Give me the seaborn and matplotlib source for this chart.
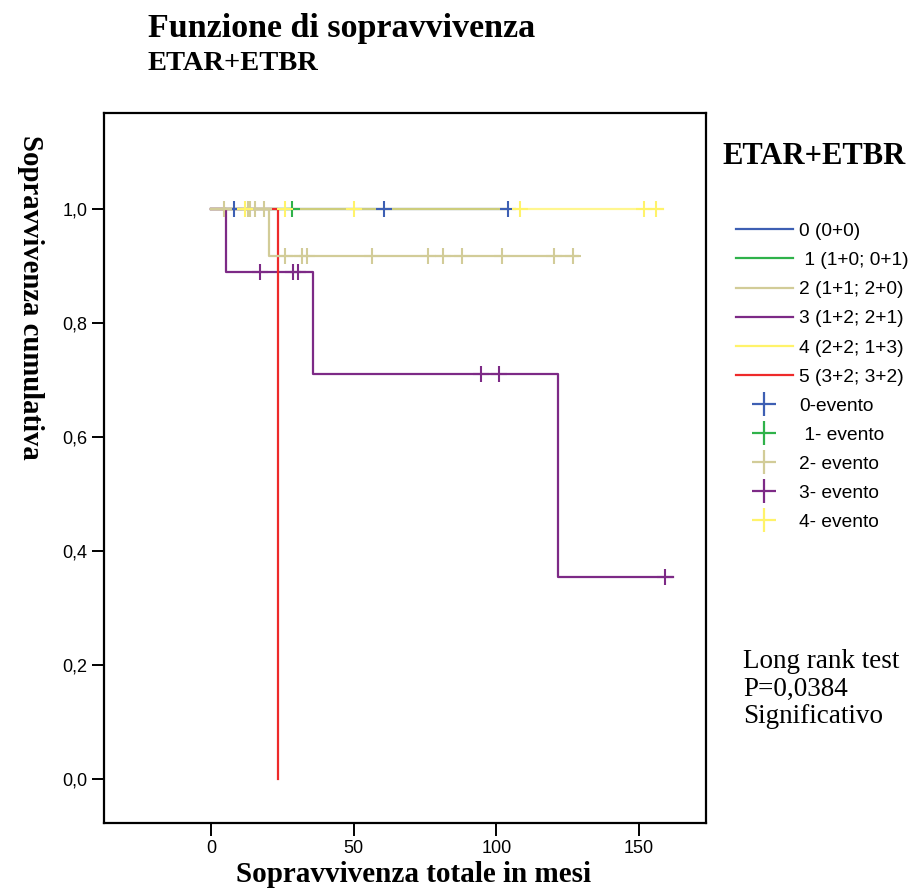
import matplotlib
matplotlib.use("Agg")
import matplotlib.pyplot as plt
from matplotlib.lines import Line2D
import seaborn as sns

# step curves (time in months, cumulative survival)
t0 = [0, 104.0]
s0 = [1.0, 1.0]
t1 = [0, 28.4]
s1 = [1.0, 1.0]
t2 = [0, 20.3, 128.6]
s2 = [1.0, 0.917, 0.917]
t3 = [0, 5.2, 35.7, 121.6, 162.0]
s3 = [1.0, 0.889, 0.711, 0.355, 0.355]
t4 = [0, 158.4]
s4 = [1.0, 1.0]
t5 = [0, 23.5]
s5 = [1.0, 0.0]

# censored cases
c0 = [8.1, 60.6, 104.0]
cs0 = [1.0, 1.0, 1.0]
c1 = [28.4]
cs1 = [1.0]
c2 = [4.6, 13.0, 13.7, 15.4, 18.6, 25.9, 31.9, 33.6, 56.4, 76.1, 81.3, 88.0, 102.0, 120.2, 126.9]
cs2 = [1.0, 1.0, 1.0, 1.0, 1.0, 0.917, 0.917, 0.917, 0.917, 0.917, 0.917, 0.917, 0.917, 0.917, 0.917]
c3 = [17.2, 28.7, 30.5, 94.6, 101.0, 159.0]
cs3 = [0.889, 0.889, 0.889, 0.711, 0.711, 0.355]
c4 = [11.9, 25.9, 50.1, 108.3, 151.8, 156.0]
cs4 = [1.0, 1.0, 1.0, 1.0, 1.0, 1.0]

group_labels = ['0 (0+0)', ' 1 (1+0; 0+1)', '2 (1+1; 2+0)', '3 (1+2; 2+1)', '4 (2+2; 1+3)', '5 (3+2; 3+2)']
event_labels = ['0-evento', ' 1- evento', '2- evento', '3- evento', '4- evento']
colors = ['#3d5fb3', '#2fb24a', '#d2cc98', '#7d2a86', '#fff36a', '#ee2a2a']

serif = 'Liberation Serif'
sans = 'Liberation Sans'
plt.rcParams['font.family'] = sans

fig = plt.figure(figsize=(9.11, 8.90), dpi=100)
ax = fig.add_axes([0.1142, 0.0753, 0.6608, 0.7977])

curves = [(t0, s0), (t1, s1), (t2, s2), (t3, s3), (t4, s4), (t5, s5)]
order = [0, 4, 1, 3, 5, 2]
for i in order:
    t, s = curves[i]
    sns.lineplot(x=t, y=s, drawstyle='steps-post', estimator=None, sort=False,
                 color=colors[i], linewidth=1.6, alpha=0.75 if i == 4 else 1.0, ax=ax)

cens = [(c0, cs0), (c1, cs1), (c2, cs2), (c3, cs3), (c4, cs4)]
for i, (c, cs) in enumerate(cens):
    sns.scatterplot(x=c, y=cs, marker='+', s=140, linewidth=1.5,
                    color=colors[i], ax=ax, zorder=3)

ax.set_xlim(-37.5, 173.5)
ax.set_ylim(-0.077, 1.168)
ax.set_xticks([0, 50, 100, 150])
ax.set_yticks([0, 0.2, 0.4, 0.6, 0.8, 1.0])
ax.set_yticklabels(['0,0', '0,2', '0,4', '0,6', '0,8', '1,0'])
ax.tick_params(direction='out', length=9, width=1.4, labelsize=13, pad=3)
for sp in ax.spines.values():
    sp.set_linewidth(1.6)
    sp.set_color('black')
ax.set_xlabel('')
ax.set_ylabel('')

fig.text(148 / 911, 1 - 28 / 890, 'Funzione di sopravvivenza', family=serif,
         weight='bold', fontsize=24.5, va='center', ha='left')
fig.text(148 / 911, 1 - 64 / 890, 'ETAR+ETBR', family=serif,
         weight='bold', fontsize=20.5, va='center', ha='left')
fig.text(414 / 911, 1 - 874 / 890, 'Sopravvivenza totale in mesi', family=serif,
         weight='bold', fontsize=21, va='center', ha='center')
fig.text(30 / 911, 1 - 297 / 890, 'Sopravvivenza cumulativa', family=serif,
         weight='bold', fontsize=20.7, va='center', ha='center', rotation=270)
fig.text(814 / 911, 1 - 157 / 890, 'ETAR+ETBR', family=serif,
         weight='bold', fontsize=22, va='center', ha='center')
fig.text(743 / 911, 1 - 689 / 890, 'Long rank test\nP=0,0384\nSignificativo',
         family=serif, fontsize=19.5, va='center', ha='left', linespacing=1.13)

handles = [Line2D([], [], color=colors[i], lw=1.6) for i in range(6)]
handles += [Line2D([], [], color=colors[i], marker='+', ls='none',
                   markersize=17, mew=1.6) for i in range(5)]
fig.legend(handles, group_labels + event_labels, loc='upper left',
           bbox_to_anchor=(728 / 911, 1 - 215 / 890), frameon=False,
           fontsize=13.8, handlelength=3.0, handletextpad=0.3,
           labelspacing=0.61, borderaxespad=0)

fig.savefig('out.png', dpi=100)
